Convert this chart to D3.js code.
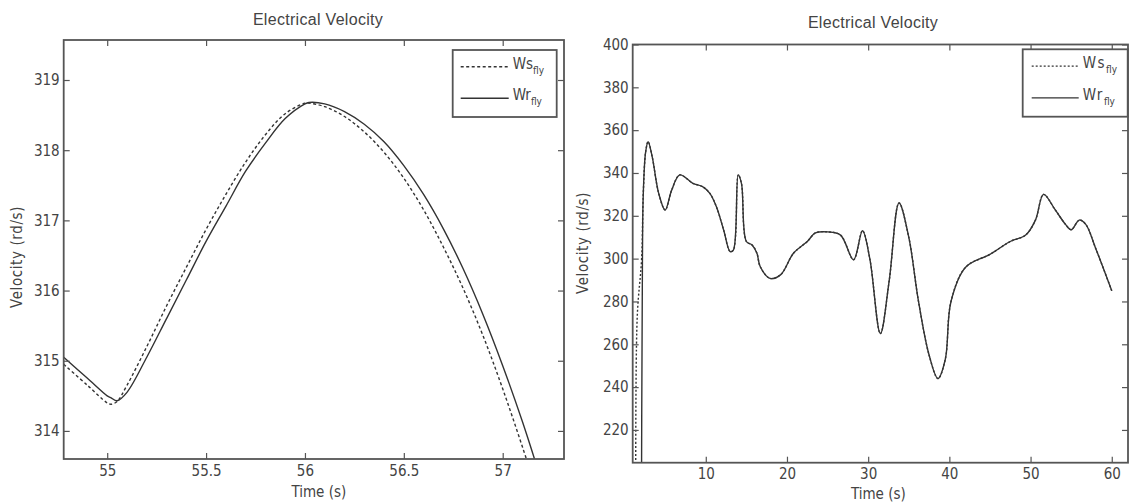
<!DOCTYPE html>
<html><head><meta charset="utf-8">
<script src="https://cdn.jsdelivr.net/npm/d3@7"></script>
<style>
html,body{margin:0;padding:0;background:#fff;}
svg text{font-family:"Liberation Sans Narrow","Arial Narrow","DejaVu Sans Condensed",sans-serif;fill:#444;}
</style></head>
<body><svg id="c" width="1129" height="504"></svg>
<script>
// ---- Left panel data (zoom 54.78 - 57.31 s)
const zoomTime   = [54.78,54.9,55.0,55.02,55.05,55.1,55.2,55.3,55.4,55.5,55.6,55.7,55.8,55.9,56.0,56.02,56.1,56.2,56.3,56.4,56.5,56.6,56.7,56.8,56.9,57.0,57.1,57.2];
const zoomWs     = [314.95,314.65,314.40,314.38,314.42,314.65,315.20,315.78,316.33,316.87,317.37,317.83,318.22,318.52,318.67,318.67,318.62,318.48,318.26,317.97,317.60,317.15,316.62,316.03,315.36,314.60,313.77,312.90];
const zoomWr     = [315.05,314.75,314.50,314.47,314.43,314.55,315.05,315.60,316.15,316.70,317.20,317.70,318.10,318.45,318.66,318.68,318.66,318.55,318.37,318.12,317.78,317.37,316.88,316.31,315.66,314.93,314.13,313.25];
const zoomXTicks = [55,55.5,56,56.5,57];
const zoomYTicks = [314,315,316,317,318,319];

// ---- Right panel data (full run)
const fullTimeWs = [1.4,1.55,2.1,2.3,2.6,2.9,3.4,4.2,5.0,5.8,6.8,8.4,9.6,10.5,11.3,12.2,13.0,13.4,14.0,14.4,15.0,15.7,16.3,16.7,17.9,19.2,20.8,22.5,23.5,25.0,26.6,28.2,29.3,30.2,31.5,32.6,33.8,35.0,36.2,37.5,38.6,39.5,40.2,42.0,45.0,47.5,49.4,50.6,51.6,53.0,54.3,55.0,56.0,56.8,58.0,60.0];
const fullWs     = [150,272,300,330,350,354.6,347.6,330.5,322.7,332,339.1,335.2,333.6,330.5,324.3,313.4,303.3,304,339.1,335,308,306.4,302.5,296.3,290.8,292.4,302.5,308,312,312.5,311,299.5,313,300,265,290,326,310,280,255,244,253,280,296,302,308,311,318,330,323,316,313.5,318,316,305,285];
const fullTimeWr = [2.05,2.2,2.3,2.6,2.9,3.4,4.2,5.0,5.8,6.8,8.4,9.6,10.5,11.3,12.2,13.0,13.4,14.0,14.4,15.0,15.7,16.3,16.7,17.9,19.2,20.8,22.5,23.5,25.0,26.6,28.2,29.3,30.2,31.5,32.6,33.8,35.0,36.2,37.5,38.6,39.5,40.2,42.0,45.0,47.5,49.4,50.6,51.6,53.0,54.3,55.0,56.0,56.8,58.0,60.0];
const fullWr     = [150,300,330,350,354.6,347.6,330.5,322.7,332,339.1,335.2,333.6,330.5,324.3,313.4,303.3,304,339.1,335,308,306.4,302.5,296.3,290.8,292.4,302.5,308,312,312.5,311,299.5,313,300,265,290,326,310,280,255,244,253,280,296,302,308,311,318,330,323,316,313.5,318,316,305,285];
const fullXTicks = [10,20,30,40,50,60];
const fullYTicks = [220,240,260,280,300,320,340,360,380,400];

const titleText = "Electrical Velocity";
const xLabel = "Time (s)";
const yLabel = "Velocity (rd/s)";
const legendNames = [["Ws","fly"],["Wr","fly"]];

const svg = d3.select("#c");
svg.append("rect").attr("width",1129).attr("height",504).attr("fill","#fff");

function panel(o){
  const g = svg.append("g");
  const x = d3.scaleLinear().domain(o.xd).range([o.x0,o.x1]);
  const y = d3.scaleLinear().domain(o.yd).range([o.y1,o.y0]);
  const id = "clip"+o.id;
  svg.append("clipPath").attr("id",id).append("rect")
    .attr("x",o.x0).attr("y",o.y0).attr("width",o.x1-o.x0).attr("height",o.y1-o.y0);
  const line = d3.line().x((d)=>x(d[0])).y((d)=>y(d[1])).curve(d3.curveCatmullRom.alpha(0.5));
  const dataG = g.append("g").attr("clip-path",`url(#${id})`);
  dataG.append("path").datum(o.t1.map((t,i)=>[t,o.v1[i]]))
    .attr("d",line).attr("fill","none").attr("stroke","#333").attr("stroke-width",1.4)
    .attr("stroke-dasharray",o.dash);
  dataG.append("path").datum(o.t2.map((t,i)=>[t,o.v2[i]]))
    .attr("d",line).attr("fill","none").attr("stroke","#333").attr("stroke-width",1.4);
  const fmt = d3.format("~g");
  const tl = 6;
  const axB = g.append("g").attr("transform",`translate(0,${o.y1})`)
    .call(d3.axisBottom(x).tickValues(o.xt).tickSizeInner(-tl).tickSizeOuter(0).tickPadding(6).tickFormat(fmt));
  const axT = g.append("g").attr("transform",`translate(0,${o.y0})`)
    .call(d3.axisTop(x).tickValues(o.xt).tickSizeInner(-tl).tickSizeOuter(0).tickFormat(""));
  const axL = g.append("g").attr("transform",`translate(${o.x0},0)`)
    .call(d3.axisLeft(y).tickValues(o.yt).tickSizeInner(-tl).tickSizeOuter(0).tickPadding(4).tickFormat(fmt));
  const axR = g.append("g").attr("transform",`translate(${o.x1},0)`)
    .call(d3.axisRight(y).tickValues(o.yt).tickSizeInner(-tl).tickSizeOuter(0).tickFormat(""));
  [axB,axT,axL,axR].forEach(a=>{
    a.select(".domain").remove();
    a.selectAll("line").attr("stroke","#555").attr("stroke-width",1.2);
    a.selectAll("text").attr("font-size",15).attr("fill","#444").style("font-family",null);
  });
  g.append("rect").attr("x",o.x0).attr("y",o.y0).attr("width",o.x1-o.x0).attr("height",o.y1-o.y0)
    .attr("fill","none").attr("stroke","#555").attr("stroke-width",1.8);
  g.append("text").attr("x",o.tx).attr("y",o.ty).attr("text-anchor","middle")
    .attr("font-size",16).attr("letter-spacing","0.3").style("font-family","'Liberation Sans',sans-serif").text(titleText);
  g.append("text").attr("x",(o.x0+o.x1)/2+o.xlo).attr("y",o.xly).attr("text-anchor","middle")
    .attr("font-size",15).text(xLabel);
  g.append("text").attr("transform",`translate(${o.ylx},${o.yly}) rotate(-90)`).attr("text-anchor","middle")
    .attr("font-size",15).attr("letter-spacing","0.6").text(yLabel);
  const L = o.leg;
  g.append("rect").attr("x",L.x).attr("y",L.y).attr("width",L.w).attr("height",L.h)
    .attr("fill","#fff").attr("stroke","#555").attr("stroke-width",1.8);
  legendNames.forEach((nm,i)=>{
    const yy = L.y + L.h*(i===0?0.25:0.72);
    g.append("line").attr("x1",L.x+L.lx0).attr("x2",L.x+L.lx1).attr("y1",yy).attr("y2",yy)
      .attr("stroke","#333").attr("stroke-width",1.4).attr("stroke-dasharray",i===0?o.dash:null);
    const t = g.append("text").attr("x",L.x+L.lx1+4).attr("y",yy+2).attr("font-size",15).attr("letter-spacing",L.ls);
    t.append("tspan").text(nm[0]);
    t.append("tspan").attr("dy",5).attr("font-size",10).attr("letter-spacing",0).text(nm[1]);
  });
}

panel({id:"a",x0:63.7,x1:564,y0:40,y1:459,xd:[54.78,57.31],yd:[313.6,319.57],
  t1:zoomTime,v1:zoomWs,t2:zoomTime,v2:zoomWr,xt:zoomXTicks,yt:zoomYTicks,dash:"3,2.5",
  tx:318,ty:25,xlo:5,xly:497,ylx:22,yly:257,
  leg:{x:452.7,y:50,w:104,h:67,lx0:8,lx1:56,ls:0}});
panel({id:"b",x0:632.7,x1:1128,y0:44.5,y1:462.7,xd:[1,62],yd:[204.7,400],
  t1:fullTimeWs,v1:fullWs,t2:fullTimeWr,v2:fullWr,xt:fullXTicks,yt:fullYTicks,dash:"2,2",
  tx:873,ty:28,xlo:-2,xly:499,ylx:588,yly:243,
  leg:{x:1022.7,y:49.3,w:105,h:67.4,lx0:9,lx1:56,ls:1.5}});
</script></body></html>
